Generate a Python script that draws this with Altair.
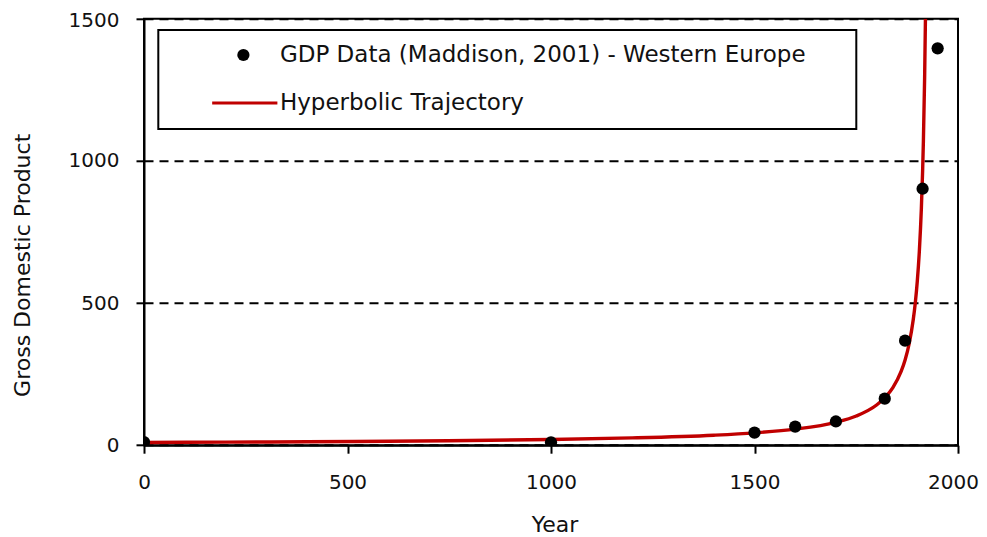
import altair as alt
import pandas as pd

# ---- data ----
data_years = [0, 1000, 1500, 1600, 1700, 1820, 1870, 1913, 1950]
data_gdp = [11.1, 10.2, 44.2, 65.6, 83.4, 163.7, 367.6, 902.3, 1396.0]

curve_years = [0, 200, 400, 600, 800, 1000, 1200, 1400, 1500, 1600, 1700, 1750,
               1800, 1820, 1840, 1860, 1870, 1880, 1890, 1895, 1900, 1905, 1910,
               1913, 1915, 1918, 1920]
curve_gdp = [9.7, 10.8, 12.2, 14.1, 16.6, 20.1, 25.6, 35.2, 43.4, 56.4, 80.6, 102.7,
             141.5, 166.7, 202.7, 258.6, 300.0, 357.0, 441.0, 500.0, 577.0, 682.0, 833.0,
             962.0, 1071.0, 1293.0, 1500.0]

series_names = ["GDP Data (Maddison, 2001) - Western Europe", "Hyperbolic Trajectory"]
x_ticks = [0, 500, 1000, 1500, 2000]
y_ticks = [0, 500, 1000, 1500]

points_df = pd.DataFrame({"Year": data_years, "GDP": data_gdp, "series": series_names[0]})
curve_df = pd.DataFrame({"Year": curve_years, "GDP": curve_gdp})

FONT = "DejaVu Sans"
RED = "#c00000"
TXT = "#111111"
LINE_SYMBOL = "M-5.1,-0.25H5.55V0.25H-5.1Z"
# invisible trailing room so the legend box is as wide as in the reference
PAD = "\u00a0" * 5 + "\u200b"

x_enc = alt.X(
    "Year:Q",
    scale=alt.Scale(domain=[0, 2000], nice=False, zero=False),
    axis=alt.Axis(values=x_ticks, format="d", title="Year", grid=False,
                  labelFlush=False, labelPadding=19,
                  labelOffset={"condition": {"test": "datum.value == 2000", "value": -5}, "value": 0},
                  titleX=410.6, titleY=79,
                  titleAlign="center", titleBaseline="middle"),
)
y_enc = alt.Y(
    "GDP:Q",
    scale=alt.Scale(domain=[0, 1500], nice=False),
    axis=alt.Axis(values=y_ticks, format="d", title="Gross Domestic Product",
                  grid=True, gridColor="black", gridDash=[9, 6], gridWidth=2,
                  labelFlush=False, labelPadding=17,
                  labelOffset={"condition": {"test": "datum.value == 1500", "value": 1.5}, "value": 0},
                  titleAngle=270, titleX=-122,
                  titleY=246, titleAlign="center", titleBaseline="middle"),
)

legend = alt.Legend(
    title=None, orient="none", legendX=14.3, legendY=11.2, direction="vertical",
    strokeColor="black", fillColor="white", padding=13.5, rowPadding=24,
    symbolOffset=60.1, labelOffset=25, labelFont=FONT, labelFontSize=23,
    labelColor=TXT, labelLimit=2000, labelExpr="datum.label + '" + PAD + "'",
    symbolSize=150, symbolStrokeWidth=0,
)

line = alt.Chart(curve_df).mark_line(
    color=RED, strokeWidth=3.4, interpolate="monotone", clip=True
).encode(x=x_enc, y=y_enc)

points = alt.Chart(points_df).mark_point(
    filled=True, size=150, opacity=1, clip=True
).encode(
    x=x_enc,
    y=y_enc,
    color=alt.Color("series:N", scale=alt.Scale(domain=series_names, range=["#000000", RED]),
                    legend=legend),
    shape=alt.Shape("series:N", scale=alt.Scale(domain=series_names, range=["circle", LINE_SYMBOL]),
                    legend=legend),
)

chart = alt.layer(line, points).properties(
    width=814, height=426.4,
    autosize=alt.AutoSizeParams(type="none"),
    padding={"left": 136, "top": 10.8, "right": 21, "bottom": 91.8},
    background="white",
).configure_view(
    stroke="black", strokeWidth=2
).configure_axis(
    domainColor="black", domainWidth=2, tickColor="black", tickWidth=2, tickSize=8,
    labelFont=FONT, labelFontSize=20, labelColor=TXT,
    titleFont=FONT, titleFontSize=22, titleFontWeight="normal", titleColor=TXT,
).configure_legend(
    strokeWidth=2
)

chart.save("out.html", embed_options={"renderer": "svg", "actions": False})
